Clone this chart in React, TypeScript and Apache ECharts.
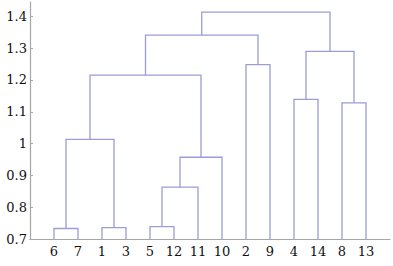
import React, { useEffect, useRef } from "react";
import * as echarts from "echarts";

// Leaf labels in display order (left to right)
const leafLabels = ["6", "7", "1", "3", "5", "12", "11", "10", "2", "9", "4", "14", "8", "13"];
// Merges: leaves are nodes 0..13, merge k creates node 14+k
const mergeLeft = [0, 2, 4, 16, 17, 14, 10, 12, 19, 8, 22, 20, 24];
const mergeRight = [1, 3, 5, 6, 7, 15, 11, 13, 18, 9, 23, 21, 25];
const mergeHeight = [0.733, 0.736, 0.739, 0.863, 0.957, 1.013, 1.139, 1.128, 1.215, 1.248, 1.341, 1.29, 1.413];
const yTickMin = 0.7;
const yTickMax = 1.445;
const yTickStep = 0.1;

export default function App() {
  const ref = useRef<HTMLDivElement>(null);
  useEffect(() => {
    document.body.style.margin = "0";
    if (!ref.current) return;
    const chart = echarts.init(ref.current, undefined, { renderer: "svg" });
    const n = leafLabels.length;
    const nodeX: number[] = [];
    const nodeH: number[] = [];
    for (let i = 0; i < n; i++) {
      nodeX.push(i + 1);
      nodeH.push(yTickMin);
    }
    const links: number[][] = [];
    for (let k = 0; k < mergeHeight.length; k++) {
      const a = mergeLeft[k];
      const b = mergeRight[k];
      const h = mergeHeight[k];
      links.push([nodeX[a], nodeH[a], nodeX[b], nodeH[b], h]);
      nodeX.push((nodeX[a] + nodeX[b]) / 2);
      nodeH.push(h);
    }
    const lineColor = "#9c9cd8";
    const axisColor = "#a6a6a6";
    const font = "DejaVu Serif";
    chart.setOption({
      animation: false,
      grid: { left: 30, right: 1.5, top: 2, bottom: 27, containLabel: false },
      xAxis: {
        type: "value",
        min: 0,
        max: n + 1,
        interval: 1,
        splitLine: { show: false },
        axisTick: { show: false },
        axisLine: { show: true, lineStyle: { color: axisColor, width: 1.2 } },
        axisLabel: {
          margin: 6,
          color: "#111",
          fontFamily: font,
          fontSize: 13,
          formatter: (v: number) => (v >= 1 && v <= n ? leafLabels[Math.round(v) - 1] : ""),
        },
      },
      yAxis: {
        type: "value",
        min: yTickMin,
        max: yTickMax,
        interval: yTickStep,
        splitLine: { show: false },
        axisLine: { show: true, lineStyle: { color: axisColor, width: 1.2 } },
        axisTick: { show: true, inside: true, length: 3, lineStyle: { color: axisColor } },
        axisLabel: {
          margin: 3,
          color: "#111",
          fontFamily: font,
          fontSize: 13,
          showMaxLabel: false,
          formatter: (v: number) => {
            const r = Math.round(v * 10);
            return Math.abs(v * 10 - r) < 1e-6 ? String(r / 10) : "";
          },
        },
      },
      series: [
        {
          type: "custom",
          data: links,
          encode: { x: [0, 2], y: [1, 3, 4] },
          renderItem: (_params: any, api: any) => {
            const xa = api.value(0);
            const ha = api.value(1);
            const xb = api.value(2);
            const hb = api.value(3);
            const h = api.value(4);
            const pts = [
              api.coord([xa, ha]),
              api.coord([xa, h]),
              api.coord([xb, h]),
              api.coord([xb, hb]),
            ];
            return {
              type: "polyline",
              shape: { points: pts },
              style: { stroke: lineColor, lineWidth: 1.3, fill: null },
            };
          },
        },
      ],
    });
    return () => chart.dispose();
  }, []);
  return <div ref={ref} style={{ width: 393, height: 266 }} />;
}
